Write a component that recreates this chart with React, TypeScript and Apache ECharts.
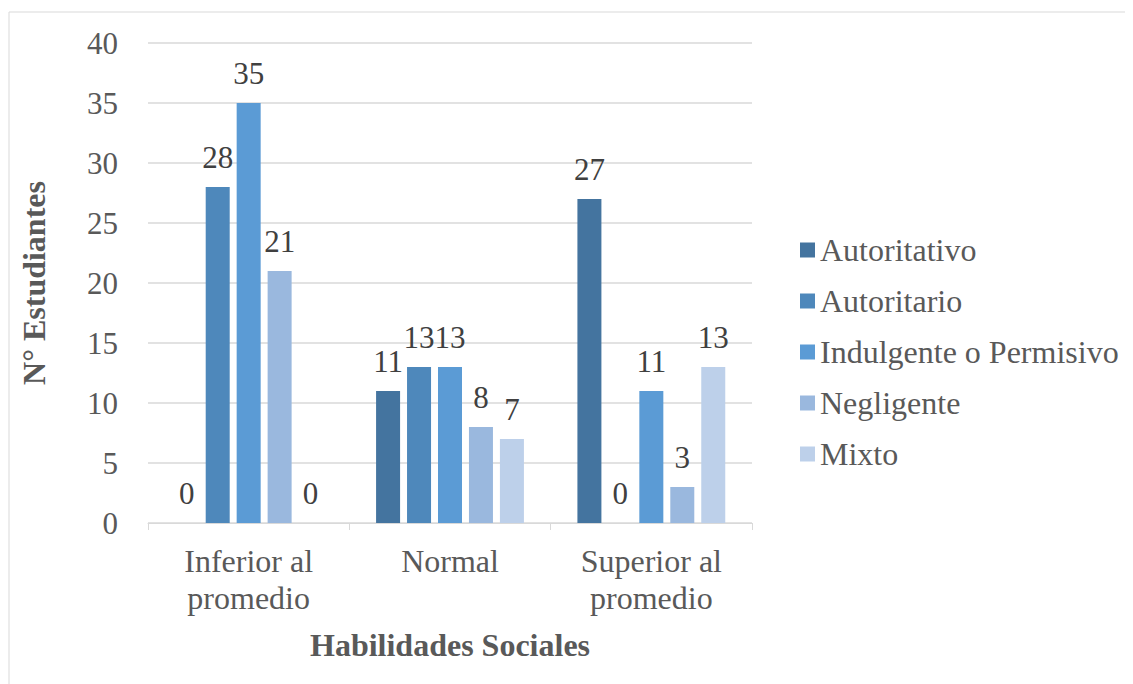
import React, { useEffect, useRef } from "react";
import * as echarts from "echarts";

const categories = ["Inferior al\npromedio", "Normal", "Superior al\npromedio"];
const seriesNames = ["Autoritativo", "Autoritario", "Indulgente o Permisivo", "Negligente", "Mixto"];
const autoritativo = [0, 11, 27];
const autoritario = [28, 13, 0];
const indulgente = [35, 13, 11];
const negligente = [21, 8, 3];
const mixto = [0, 7, 13];
const colors = ["#44749f", "#4e88bb", "#5b9bd5", "#9ab8de", "#bdd0ea"];

const FONT = "'Liberation Serif', 'Times New Roman', serif";

export default function App() {
  const ref = useRef<HTMLDivElement>(null);
  useEffect(() => {
    const chart = echarts.init(ref.current!, null, { renderer: "svg" });
    const data = [autoritativo, autoritario, indulgente, negligente, mixto];
    chart.setOption({
      animation: false,
      textStyle: { fontFamily: FONT },
      graphic: [
        {
          type: "rect",
          shape: { x: 1, y: 4, width: 1140, height: 700 },
          style: { fill: "none", stroke: "#d9d9d9", lineWidth: 1 },
          silent: true,
        },
      ],
      legend: {
        orient: "vertical",
        left: 787,
        top: 221,
        itemWidth: 15,
        itemHeight: 15,
        itemGap: 19,
        icon: "rect",
        textStyle: { fontFamily: FONT, fontSize: 32, color: "#595959", lineHeight: 32 },
        data: seriesNames,
      },
      grid: { left: 140, top: 35, right: 381, bottom: 161, containLabel: false },
      xAxis: {
        type: "category",
        data: categories,
        name: "Habilidades Sociales",
        nameLocation: "middle",
        nameGap: 106,
        nameTextStyle: { fontFamily: FONT, fontSize: 32, fontWeight: "bold", color: "#595959" },
        axisLine: { lineStyle: { color: "#d9d9d9" } },
        axisTick: { show: true, length: 7, lineStyle: { color: "#d9d9d9" } },
        axisLabel: { fontFamily: FONT, fontSize: 32, color: "#595959", lineHeight: 37, margin: 19 },
      },
      yAxis: {
        type: "value",
        min: 0,
        max: 40,
        interval: 5,
        name: "N° Estudiantes",
        nameLocation: "middle",
        nameGap: 98,
        nameTextStyle: { fontFamily: FONT, fontSize: 32, fontWeight: "bold", color: "#595959" },
        axisLine: { show: false },
        axisTick: { show: false },
        splitLine: { lineStyle: { color: "#d9d9d9", width: 1.5 } },
        axisLabel: { fontFamily: FONT, fontSize: 31, color: "#595959", margin: 30 },
      },
      series: seriesNames.map((name, i) => ({
        name,
        type: "bar",
        data: data[i],
        barWidth: 24,
        barGap: "29%",
        itemStyle: { color: colors[i] },
        label: {
          show: true,
          position: "top",
          distance: 14,
          fontFamily: FONT,
          fontSize: 31,
          color: "#404040",
        },
      })),
    });
    return () => chart.dispose();
  }, []);
  return <div ref={ref} style={{ width: 1125, height: 676 }} />;
}
